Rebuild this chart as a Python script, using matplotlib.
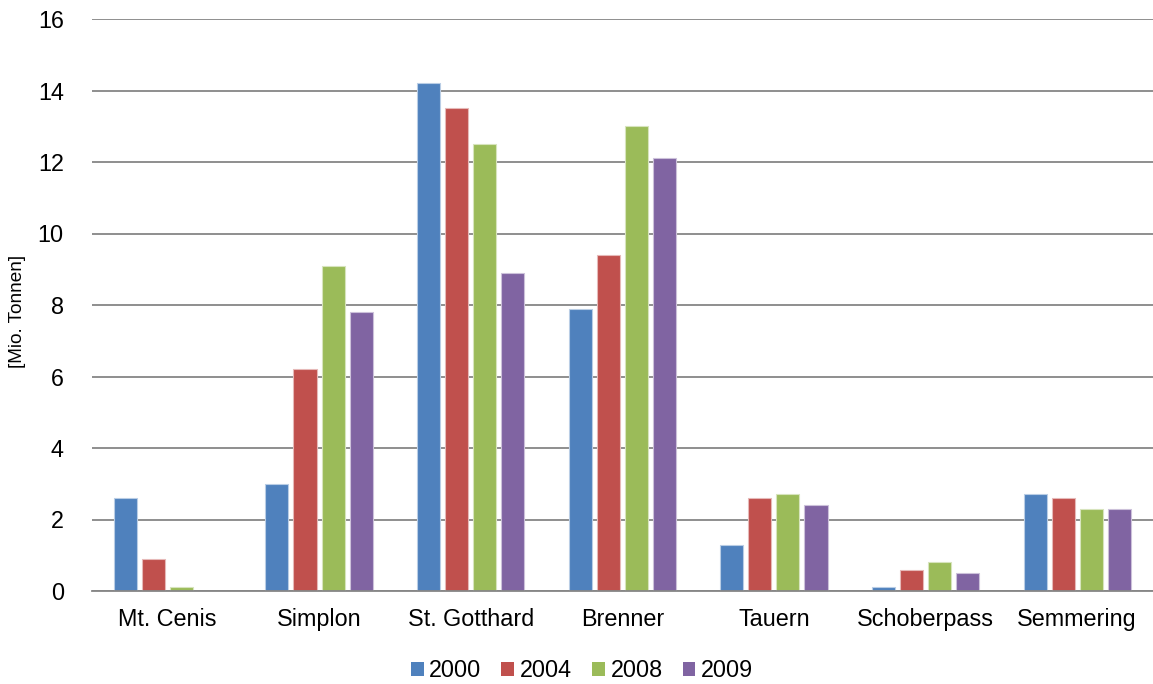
import matplotlib
matplotlib.use("Agg")
import matplotlib.pyplot as plt
import numpy as np

plt.rcParams['font.family'] = ['Liberation Sans', 'DejaVu Sans']

passes = ["Mt. Cenis", "Simplon", "St. Gotthard", "Brenner", "Tauern", "Schoberpass", "Semmering"]
years = ["2000", "2004", "2008", "2009"]
tonnage_2000 = [2.6, 3.0, 14.2, 7.9, 1.3, 0.1, 2.7]
tonnage_2004 = [0.9, 6.2, 13.5, 9.4, 2.6, 0.6, 2.6]
tonnage_2008 = [0.1, 9.1, 12.5, 13.0, 2.7, 0.8, 2.3]
tonnage_2009 = [0.0, 7.8, 8.9, 12.1, 2.4, 0.5, 2.3]
series = [tonnage_2000, tonnage_2004, tonnage_2008, tonnage_2009]
colors = ["#4F81BD", "#C0504D", "#9BBB59", "#8064A2"]
edges = ["#B9CDE5", "#E6B9B8", "#D7E4BD", "#CCC1DA"]

fig = plt.figure(figsize=(11.53, 6.84), dpi=100)
ax = fig.add_axes([91.6 / 1153, 1 - 591 / 684, (1153 - 91.6) / 1153, (591 - 19) / 684])

x = np.arange(len(passes))
slot = 0.185
width = 0.152
for i, (vals, c, ec) in enumerate(zip(series, colors, edges)):
    offs = (i - 1.5) * slot
    ax.bar(x + offs, vals, width=width, color=c, edgecolor=ec, linewidth=0.8,
           label=years[i], zorder=3)

ax.set_xlim(-0.5, len(passes) - 0.5)
ax.set_ylim(0, 16)
ax.set_yticks(np.arange(0, 17, 2))
ax.yaxis.grid(True, color="#868686", linewidth=1.3, zorder=0)
ax.set_axisbelow(True)
for s in ["top", "right", "left"]:
    ax.spines[s].set_visible(False)
ax.spines["bottom"].set_color("#868686")
ax.spines["bottom"].set_linewidth(1.3)
ax.spines["bottom"].set_zorder(4)

ax.set_xticks(x)
ax.set_xticklabels(passes, fontsize=16.8)
ax.tick_params(axis="x", length=0, pad=12)
ax.tick_params(axis="y", length=0, pad=20, labelsize=16.8)

fig.text(18 / 1153, 1 - 311 / 684, "[Mio. Tonnen]", rotation=90, fontsize=13.7,
         ha="center", va="center")

leg = fig.legend(loc="lower center", bbox_to_anchor=(582 / 1153, -0.028), ncol=4, frameon=False,
                 fontsize=16.8, handlelength=0.55, handleheight=0.55, handletextpad=0.25,
                 columnspacing=0.85)
for h in leg.legend_handles:
    h.set_edgecolor("none")

fig.savefig("out.png", dpi=100)
